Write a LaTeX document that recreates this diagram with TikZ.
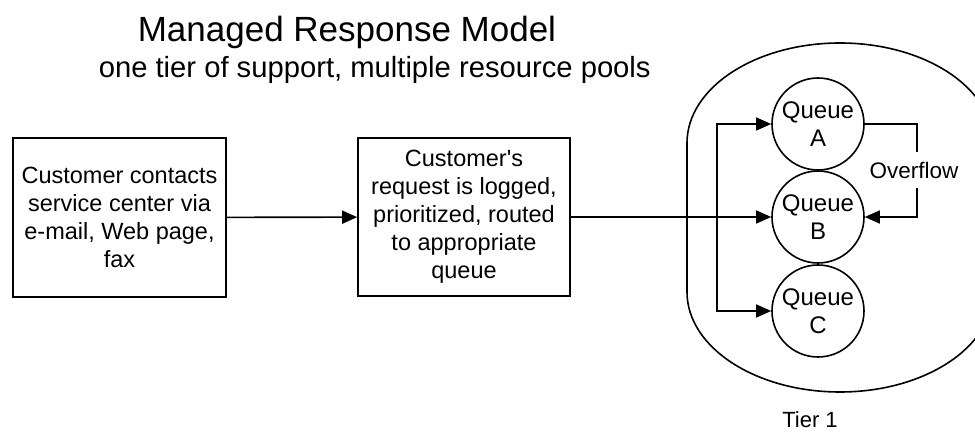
\documentclass[tikz,border=0pt]{standalone}
\usepackage{fontspec}
\setmainfont{Liberation Sans}
\usetikzlibrary{arrows.meta}
\begin{document}
\begin{tikzpicture}[x=1pt,y=1pt,
  line width=1.6pt,
  arr/.style={-{Triangle[length=15pt,width=13pt]}},
  procbox/.style={draw, rectangle, align=center, inner sep=0pt,
    font=\fontsize{23.5}{28}\selectfont},
  queue/.style={draw, circle, align=center, inner sep=0pt, minimum size=92pt,
    font=\fontsize{24}{28}\selectfont},
  lbl/.style={inner sep=0pt, font=\fontsize{22.5}{26}\selectfont}]
\useasboundingbox (0,0) rectangle (975,433);

\node[anchor=base west, inner sep=0pt, font=\fontsize{35}{40}\selectfont] (title) at (137,391) {Managed Response Model};
\node[anchor=base west, inner sep=0pt, font=\fontsize{29.2}{34}\selectfont] (sub) at (98,355) {one tier of support, multiple resource pools};

\node[procbox, minimum width=213pt, minimum height=159pt] (box1) at (119.5,215.5)
  {Customer contacts\\service center via\\e-mail, Web page,\\fax};
\node[procbox, minimum width=212pt, minimum height=158pt] (box2) at (464,216)
  {Customer\textquotesingle s\\request is logged,\\prioritized, routed\\to appropriate\\queue};

% tier blob
\draw (687,290) arc[start angle=180, end angle=0, x radius=153, y radius=100]
  -- (993,141) arc[start angle=0, end angle=-180, x radius=153, y radius=100] -- cycle;

\node[queue] (qa) at (818,309) {Queue\\A};
\node[queue] (qb) at (818,216) {Queue\\B};
\node[queue] (qc) at (818,122) {Queue\\C};

\coordinate (split) at (717,216);
\coordinate (ovt) at (917,281);
\coordinate (ovb) at (917,245);

\draw[arr] (box1) -- (box2);
\draw[arr] (box2.east) -- (qb.west);
\draw[arr] (split) |- (qa.west);
\draw[arr] (split) |- (qc.west);

\node[lbl] (ov) at (914,263) {Overflow};
\draw (qa.east) -| (ovt);
\draw[arr] (ovb) |- (qb.east);

\node[lbl, anchor=base, font=\fontsize{22}{26}\selectfont] (tier) at (810,5) {Tier 1};
\end{tikzpicture}
\end{document}
